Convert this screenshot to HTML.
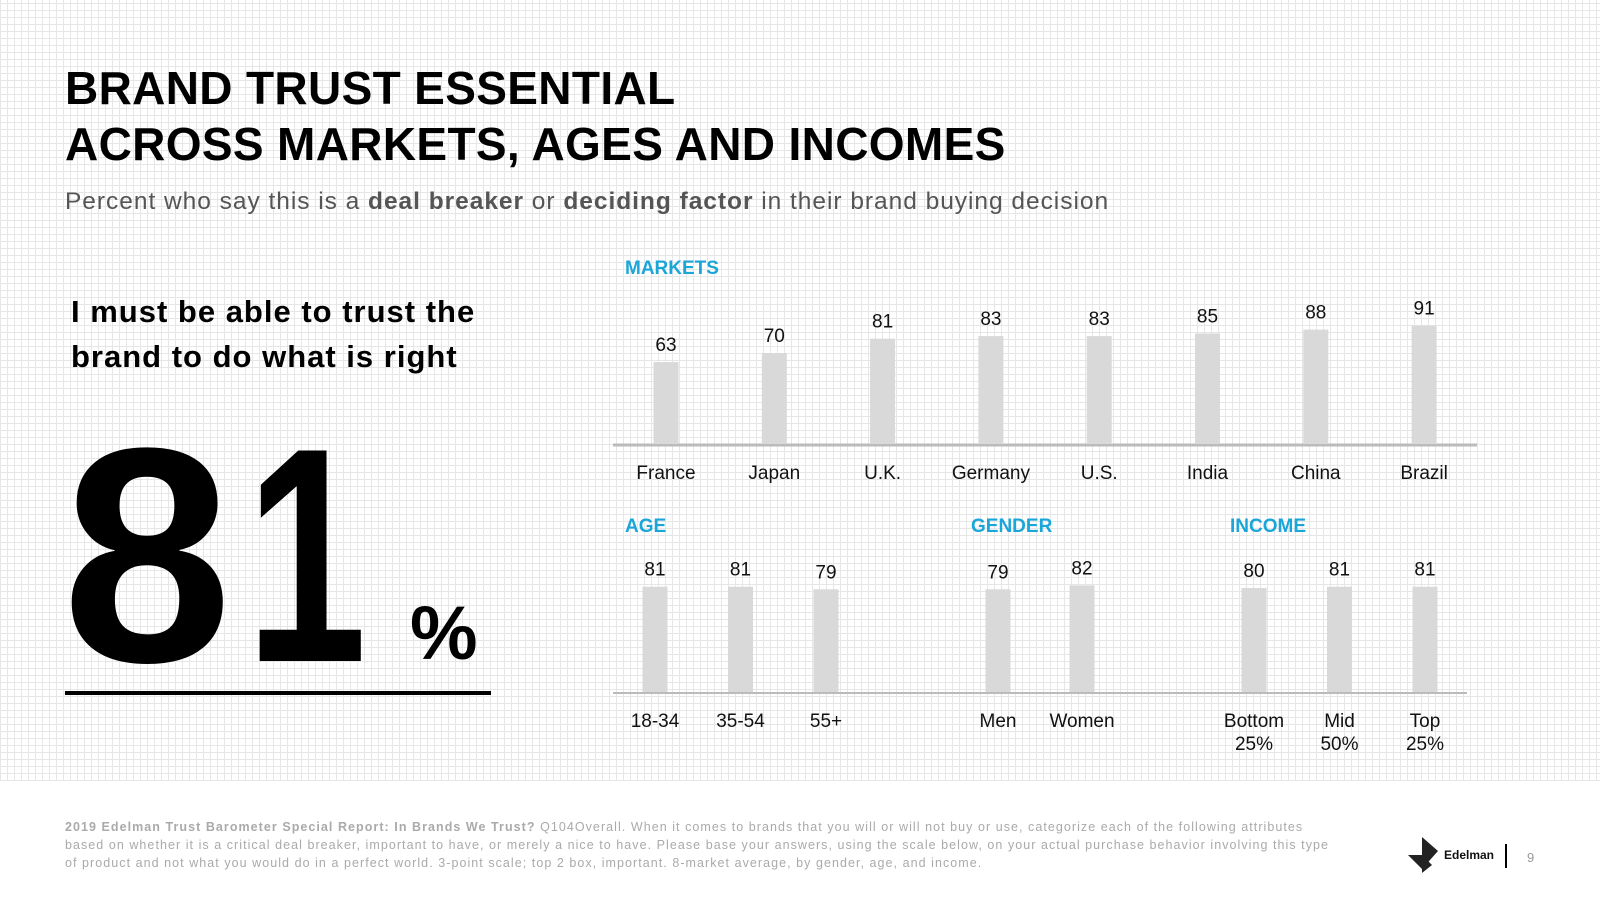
<!DOCTYPE html>
<html><head><meta charset="utf-8"><style>
body{margin:0;width:1600px;height:900px;position:relative;overflow:hidden;background:#fff;font-family:"Liberation Sans",Arial,sans-serif;}
#grid{position:absolute;left:0;top:0;width:1600px;height:781px;background-color:#fff;
background-image:repeating-linear-gradient(0deg,#e6e6e6 0 1px,transparent 1px 7px),repeating-linear-gradient(90deg,#e6e6e6 0 1px,transparent 1px 7px);}
.t{position:absolute;white-space:nowrap;}
</style></head><body>
<div id="grid"></div>
<div class="t" style="left:65px;top:60px;font-size:46px;font-weight:bold;line-height:56px;color:#000;letter-spacing:0.35px">BRAND TRUST ESSENTIAL<br>ACROSS MARKETS, AGES AND INCOMES</div>
<div class="t" style="left:65px;top:188px;font-size:24.5px;color:#555;letter-spacing:0.97px">Percent who say this is a <b>deal breaker</b> or <b>deciding factor</b> in their brand buying decision</div>
<div class="t" style="left:71px;top:289px;font-size:31px;font-weight:bold;line-height:45px;color:#000;letter-spacing:1px">I must be able to trust the<br>brand to do what is right</div>
<div class="t" style="left:62px;top:390px;font-size:306px;font-weight:bold;line-height:330px;color:#000"><span>8</span><span style="position:absolute;left:184px;top:0;transform:scaleX(0.71);transform-origin:left">1</span></div>
<div class="t" style="left:410px;top:594px;font-size:76px;font-weight:bold;line-height:80px;color:#000">%</div>
<div style="position:absolute;left:65px;top:691px;width:426px;height:4px;background:#000"></div>
<svg id="chart" width="1600" height="900" style="position:absolute;left:0;top:0"></svg>
<div class="t" style="left:65px;top:818px;font-size:12.5px;line-height:18px;color:#aaa;letter-spacing:1.05px"><b>2019 Edelman Trust Barometer Special Report: In Brands We Trust?</b> Q104Overall. When it comes to brands that you will or will not buy or use, categorize each of the following attributes<br>based on whether it is a critical deal breaker, important to have, or merely a nice to have. Please base your answers, using the scale below, on your actual purchase behavior involving this type<br>of product and not what you would do in a perfect world. 3-point scale; top 2 box, important. 8-market average, by gender, age, and income.</div>
<svg width="60" height="36" style="position:absolute;left:1408px;top:837px"><polygon points="0,18 14,18 14,0 30,14 14,32" fill="#222"/><polygon points="14,18 24,28 14,36" fill="#222"/></svg>
<div class="t" style="left:1444px;top:848px;font-size:12px;font-weight:bold;color:#111">Edelman</div>
<div style="position:absolute;left:1505px;top:844px;width:2px;height:24px;background:#000"></div>
<div class="t" style="left:1527px;top:850px;font-size:13px;color:#999">9</div>
<script>
const marketCats=["France","Japan","U.K.","Germany","U.S.","India","China","Brazil"];
const marketVals=[63,70,81,83,83,85,88,91];
const ageCats=["18-34","35-54","55+"];
const ageVals=[81,81,79];
const genderCats=["Men","Women"];
const genderVals=[79,82];
const incomeCats=["Bottom|25%","Mid|50%","Top|25%"];
const incomeVals=[80,81,81];
const svg=document.getElementById('chart');
const NS='http://www.w3.org/2000/svg';
const scale=1.3;
function el(tag,attrs,txt){const e=document.createElementNS(NS,tag);for(const k in attrs)e.setAttribute(k,attrs[k]);if(txt!==undefined)e.textContent=txt;svg.appendChild(e);return e;}
function section(title,tx,ty){const t=el('text',{x:tx,y:ty,'font-size':19,'font-weight':'bold',fill:'#1aa6d8'},title);}
function bars(cats,vals,x0,step,base,key){
 cats.forEach((c,i)=>{const cx=x0+i*step;const h=vals[i]*scale;
  const r=el('rect',{x:cx-12.5,y:base-h,width:25,height:h,fill:'#d9d9d9'});
  
  
  const v=el('text',{x:cx,y:base-h-11,'font-size':19,'text-anchor':'middle',fill:'#111'},vals[i]);
  
  
  c.split('|').forEach((p,j)=>{const l=el('text',{x:cx,y:base+35+j*23,'font-size':19,'text-anchor':'middle',fill:'#111'},p);
   
   });
 });}
section('MARKETS',625,274);
let a1=el('line',{x1:613,x2:1477,y1:445,y2:445,stroke:'#bbb','stroke-width':3});


bars(marketCats,marketVals,666,108.3,444,'market');
section('AGE',625,532);section('GENDER',971,532);section('INCOME',1230,532);
let a2=el('line',{x1:613,x2:1467,y1:693,y2:693,stroke:'#bbb','stroke-width':2});


bars(ageCats,ageVals,655,85.5,692,'age');
bars(genderCats,genderVals,998,84,692,'gender');
bars(incomeCats,incomeVals,1254,85.5,692,'income');
</script>
</body></html>
